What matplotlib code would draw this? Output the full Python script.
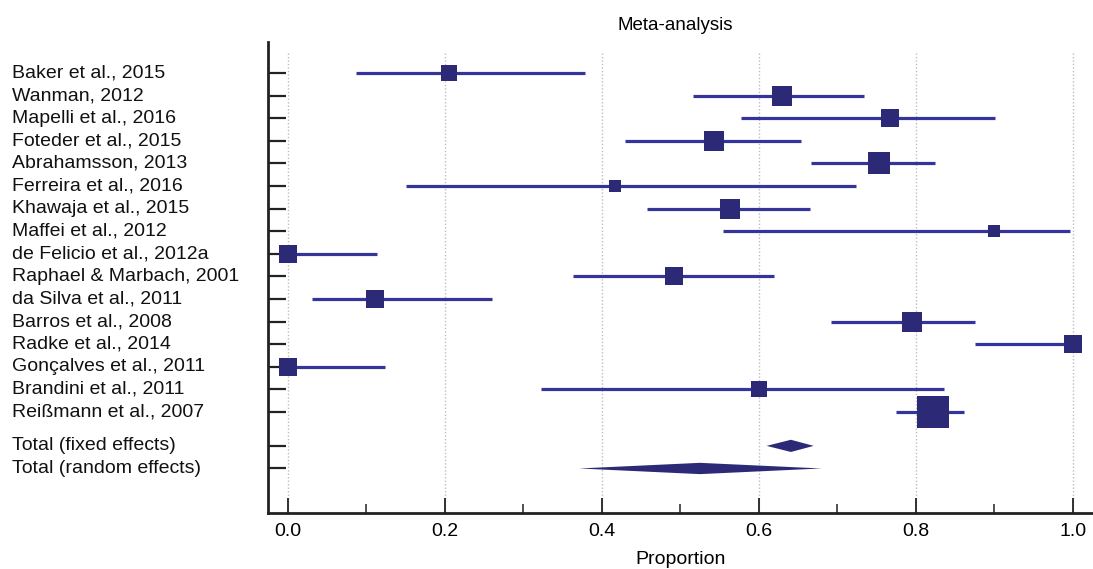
import matplotlib
matplotlib.use("Agg")
import matplotlib.pyplot as plt
import matplotlib.transforms as mtransforms
from matplotlib.ticker import MultipleLocator

# ---------------------------------------------------------------------------
# Data (proportion, 95% CI, relative weight %)
# ---------------------------------------------------------------------------
studies = [
    "Baker et al., 2015",
    "Wanman, 2012",
    "Mapelli et al., 2016",
    "Foteder et al., 2015",
    "Abrahamsson, 2013",
    "Ferreira et al., 2016",
    "Khawaja et al., 2015",
    "Maffei et al., 2012",
    "de Felicio et al., 2012a",
    "Raphael & Marbach, 2001",
    "da Silva et al., 2011",
    "Barros et al., 2008",
    "Radke et al., 2014",
    "Gonçalves et al., 2011",
    "Brandini et al., 2011",
    "Reißmann et al., 2007",
]
proportion = [0.205, 0.630, 0.767, 0.543, 0.753, 0.417, 0.563, 0.900,
              0.000, 0.492, 0.111, 0.795, 1.000, 0.000, 0.600, 0.822]
ci_low = [0.087, 0.516, 0.577, 0.429, 0.666, 0.151, 0.458, 0.555,
          0.000, 0.363, 0.031, 0.692, 0.876, 0.000, 0.323, 0.775]
ci_high = [0.378, 0.734, 0.901, 0.654, 0.825, 0.724, 0.665, 0.997,
           0.114, 0.619, 0.260, 0.875, 1.000, 0.123, 0.836, 0.861]
weights = [4.4, 6.9, 5.0, 6.9, 9.1, 2.9, 7.6, 2.9,
           5.0, 6.2, 5.0, 7.6, 5.0, 5.0, 3.9, 16.6]

total_labels = ["Total (fixed effects)", "Total (random effects)"]
total_est = [0.641, 0.525]
total_low = [0.610, 0.371]
total_high = [0.670, 0.680]

# ---------------------------------------------------------------------------
# Style
# ---------------------------------------------------------------------------
LINE_COLOR = "#34349a"
BOX_COLOR = "#2c2a76"
GRID_COLOR = "#bdbdbd"
FONT = ["Liberation Sans", "DejaVu Sans"]

plt.rcParams["font.family"] = FONT

fig = plt.figure(figsize=(10.93, 5.69), dpi=100)
ax = fig.add_axes([268 / 1093, 56 / 569, 1 - 268 / 1093, (513 - 42) / 569])

n = len(studies)
y_study = list(range(n))
y_total = [n + 0.5, n + 1.5]

ax.set_xlim(-0.0255, 1.026)
ax.set_ylim(19.47, -1.37)

# dotted vertical grid
for gx in [0.0, 0.2, 0.4, 0.6, 0.8, 1.0]:
    ax.plot([gx, gx], [-0.88, 19.47], ls=(0, (1, 1.5)), color=GRID_COLOR,
            lw=1.0, zorder=1)

# study rows
for y, est, lo, hi, w in zip(y_study, proportion, ci_low, ci_high, weights):
    ax.plot([lo, hi], [y, y], color=LINE_COLOR, lw=2.3, solid_capstyle="butt",
            zorder=3)
    side_px = (w * 57.97) ** 0.5
    ax.plot(est, y, marker="s", markersize=side_px * 0.72, color=BOX_COLOR,
            markeredgewidth=0, zorder=4, clip_on=False)

# pooled diamonds
for y, est, lo, hi, hh in zip(y_total, total_est, total_low, total_high,
                              [0.27, 0.25]):
    ax.fill([lo, est, hi, est], [y, y - hh, y, y + hh], color=BOX_COLOR,
            lw=0, zorder=4)

# row labels, left aligned at the figure edge
trans = mtransforms.blended_transform_factory(fig.transFigure, ax.transData)
for y, lab in zip(y_study + y_total, studies + total_labels):
    ax.text(12 / 1093, y, lab, transform=trans, ha="left", va="center",
            fontsize=14, color="#111111")

# axes styling
for side in ["top", "right"]:
    ax.spines[side].set_visible(False)
for side in ["left", "bottom"]:
    ax.spines[side].set_linewidth(2.0)
    ax.spines[side].set_color("#222222")

ax.set_yticks(y_study + y_total)
ax.set_yticklabels([])
ax.tick_params(axis="y", direction="in", length=13, width=1.6,
               color="#222222")

ax.xaxis.set_major_locator(MultipleLocator(0.2))
ax.xaxis.set_minor_locator(MultipleLocator(0.1))
ax.tick_params(axis="x", which="major", direction="in", length=11,
               width=1.3, color="#222222", pad=7)
ax.tick_params(axis="x", which="minor", direction="in", length=6.5,
               width=1.1, color="#222222")
ax.set_xticks([0.0, 0.2, 0.4, 0.6, 0.8, 1.0])
ax.set_xticklabels(["0.0", "0.2", "0.4", "0.6", "0.8", "1.0"], fontsize=14)
ax.set_xlabel("Proportion", fontsize=14, labelpad=8)

fig.text(675 / 1093, 1 - 25 / 569, "Meta-analysis", ha="center",
         va="center", fontsize=13.5)

fig.savefig("out.png", dpi=100)
